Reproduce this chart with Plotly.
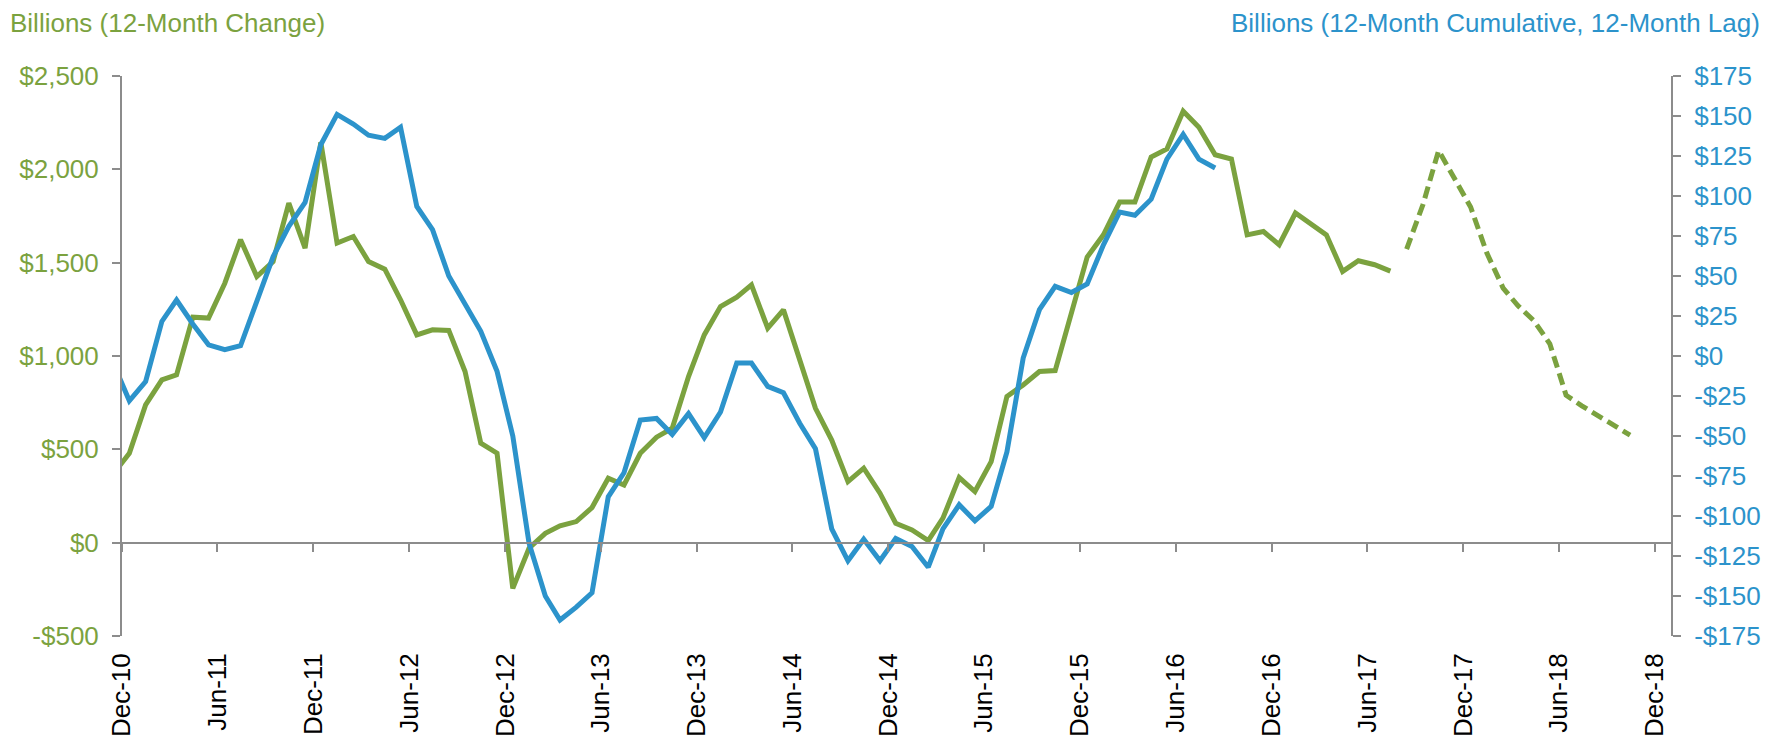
import pandas as pd
import plotly.graph_objects as go

# ---------------- data ----------------
# Green: 12-month change (left axis), monthly, Nov-10 .. Jul-17 (actual)
green_start = "2010-11-01"
green_values = [370, 479, 738, 872, 899, 1208, 1203, 1390, 1623, 1426, 1506,
                1819, 1578, 2145, 1605, 1640, 1506, 1465, 1301, 1113, 1140,
                1137, 917, 533, 479, -245, -30, 50, 90, 113, 188,
                345, 309, 479, 565, 613, 890, 1113, 1265, 1315, 1381,
                1149, 1247, 988, 720, 550, 327, 399, 265, 104, 68,
                11, 131, 349, 274, 434, 783, 845, 917, 922, 1229,
                1530, 1649, 1825, 1825, 2066, 2109, 2311, 2225, 2078, 2055,
                1649, 1667, 1596, 1766, 1708, 1649, 1453, 1510, 1489, 1455]

# Green dashed: projection, Aug-17 .. Oct-18
proj_start = "2017-08-01"
proj_values = [1573, 1810, 2101, 1948, 1798, 1551, 1364, 1270, 1188, 1065,
               790, 733, 679, 626, 576]

# Blue: 12-month cumulative, 12-month lag (right axis), Nov-10 .. Aug-16
blue_start = "2010-11-01"
blue_values = [-5, -28, -16, 21.6, 35, 20, 7, 4, 6.4, 34, 62,
               81, 96, 132, 151, 145, 138, 136, 143, 93.5, 79,
               50, 32, 15.4, -9.6, -50, -117, -150, -165, -157, -148,
               -88, -73, -40, -39, -49, -36, -51, -35, -4.4, -4.4,
               -19, -23, -42, -58, -108, -128, -114.5, -128, -114, -119,
               -132, -108, -93, -103, -94, -60, -1.3, 29, 43.5, 39.7,
               45, 69.5, 90, 88, 98, 123, 138.5, 123, 117.5]

left_tickvals = [-500, 0, 500, 1000, 1500, 2000, 2500]
left_ticktext = ["-$500", "$0", "$500", "$1,000", "$1,500", "$2,000", "$2,500"]
right_tickvals = [-175, -150, -125, -100, -75, -50, -25, 0, 25, 50, 75, 100, 125, 150, 175]
right_ticktext = ["-$175", "-$150", "-$125", "-$100", "-$75", "-$50", "-$25", "$0",
                  "$25", "$50", "$75", "$100", "$125", "$150", "$175"]

left_title = "Billions (12-Month Change)"
right_title = "Billions (12-Month Cumulative, 12-Month Lag)"


def mid_month(start, n):
    return pd.date_range(start, periods=n, freq="MS") + pd.Timedelta(days=14)


green_x = mid_month(green_start, len(green_values))
proj_x = mid_month(proj_start, len(proj_values))
blue_x = mid_month(blue_start, len(blue_values))

GREEN = "#7BA23F"
BLUE = "#2C93CB"
AXIS = "#8C8C8C"
FONT = "Liberation Sans, Arial, sans-serif"
LW = 5

fig = go.Figure()
fig.add_trace(go.Scatter(x=green_x, y=green_values, mode="lines",
                         line=dict(color=GREEN, width=LW), xaxis="x", yaxis="y",
                         showlegend=False, hoverinfo="skip"))
fig.add_trace(go.Scatter(x=blue_x, y=blue_values, mode="lines",
                         line=dict(color=BLUE, width=LW), xaxis="x", yaxis="y2",
                         showlegend=False, hoverinfo="skip"))
fig.add_trace(go.Scatter(x=proj_x, y=proj_values, mode="lines",
                         line=dict(color=GREEN, width=LW, dash="12px,6px"),
                         xaxis="x2", yaxis="y", showlegend=False, hoverinfo="skip"))

xrange = ["2010-12-01", "2019-01-01"]

# the page body has an 8px default margin, so the figure is 8px smaller
fig.update_layout(
    template="none",
    width=1773, height=729,
    margin=dict(l=114, r=110, t=68, b=101, pad=0),
    paper_bgcolor="white", plot_bgcolor="white",
    font=dict(family=FONT, size=26, color="black"),
    xaxis=dict(type="date", range=xrange, tick0="2010-12-01", dtick="M6",
               tickformat="%b-%y", tickangle=-90, showline=False, ticks="",
               showgrid=False, zeroline=False, ticklabelstandoff=11, automargin=False,
               tickfont=dict(size=26, color="black", family=FONT)),
    xaxis2=dict(type="date", range=xrange, tick0="2010-12-01", dtick="M6",
                overlaying="x", anchor="free", position=500 / 3000, side="bottom",
                showline=True, linecolor=AXIS, linewidth=2, automargin=False,
                ticks="outside", ticklen=8, tickwidth=2, tickcolor=AXIS,
                showticklabels=False, showgrid=False, zeroline=False),
    yaxis=dict(range=[-500, 2500], tickvals=left_tickvals, ticktext=left_ticktext,
               showline=True, linecolor=AXIS, linewidth=2, automargin=False,
               ticks="outside", ticklen=8, tickwidth=2, tickcolor=AXIS,
               showgrid=False, zeroline=False, ticklabelstandoff=8,
               tickfont=dict(size=26, color=GREEN, family=FONT)),
    yaxis2=dict(range=[-175, 175], tickvals=right_tickvals, ticktext=right_ticktext,
                overlaying="y", side="right", anchor="x", automargin=False,
                showline=True, linecolor=AXIS, linewidth=2,
                ticks="outside", ticklen=8, tickwidth=2, tickcolor=AXIS,
                showgrid=False, zeroline=False, ticklabelstandoff=8,
                tickfont=dict(size=26, color=BLUE, family=FONT)),
    annotations=[
        dict(text=left_title, xref="paper", yref="paper", x=-0.0735, y=1.0955,
             xanchor="left", yanchor="middle", showarrow=False,
             font=dict(size=26, color=GREEN, family=FONT)),
        dict(text=right_title, xref="paper", yref="paper", x=1.0585, y=1.094,
             xanchor="right", yanchor="middle", showarrow=False,
             font=dict(size=26, color=BLUE, family=FONT)),
    ],
)

fig.write_html("out.html")
